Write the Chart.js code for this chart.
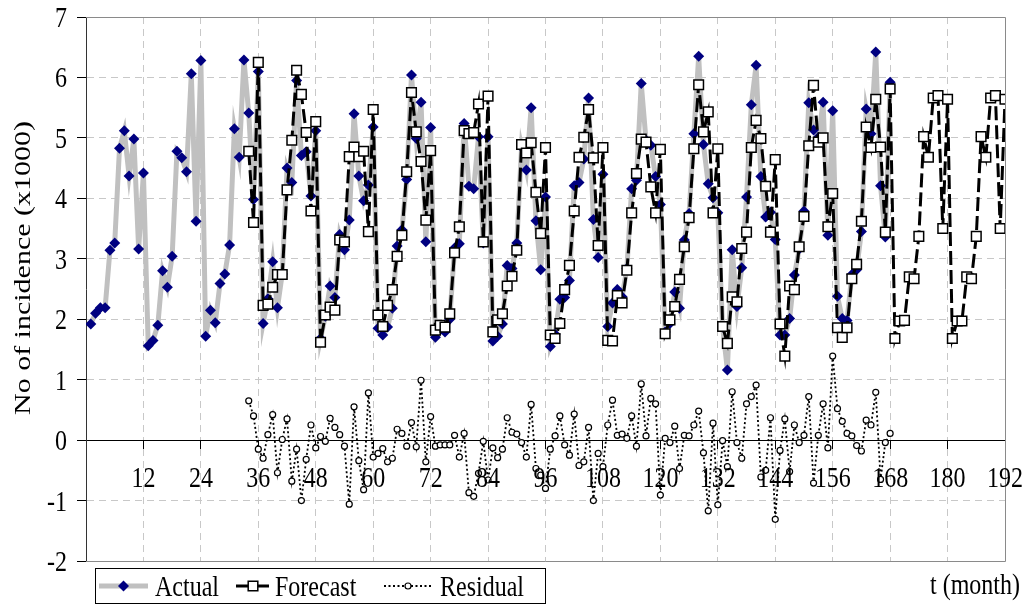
<!DOCTYPE html>
<html>
<head>
<meta charset="utf-8">
<title>Incidence forecast</title>
<script src="https://cdn.jsdelivr.net/npm/chart.js@4.4.0/dist/chart.umd.min.js"></script>
<style>
  html, body { margin: 0; padding: 0; background: #fff; }
  #chart { display: block; }
</style>
</head>
<body>
<canvas id="chart" width="1031" height="606"></canvas>
<script>
// Monthly incidence (x1000). Actual starts at month 1, forecast and residual at month 34.
const actualStart = 1;
const forecastStart = 34;
const residualStart = 34;

const actual = [
  1.92, 2.10, 2.19, 2.19, 3.14, 3.26, 4.83, 5.12, 4.37, 4.98, 3.16, 4.42,
  1.56, 1.65, 1.90, 2.80, 2.53, 3.04, 4.78, 4.67, 4.44, 6.06, 3.62, 6.28,
  1.72, 2.15, 1.94, 2.59, 2.75, 3.23, 5.15, 4.68, 6.29, 5.41, 3.98, 6.10,
  1.93, 2.34, 2.95, 2.19, 2.75, 4.50, 4.26, 5.95, 4.71, 4.77, 4.04, 5.12,
  1.68, 2.05, 2.55, 2.36, 3.40, 3.15, 3.64, 5.40, 4.37, 3.96, 4.22, 5.18,
  1.85, 1.74, 1.87, 2.18, 3.21, 3.48, 4.31, 6.04, 4.99, 5.59, 3.28, 5.17,
  1.70, 1.82, 1.79, 2.00, 3.18, 3.25, 5.24, 4.20, 4.16, 5.02, 3.26, 5.02,
  1.64, 1.72, 1.92, 2.89, 2.84, 3.26, 4.85, 4.47, 5.50, 3.63, 2.82, 4.02,
  1.55, 1.75, 2.33, 2.36, 2.64, 4.21, 4.26, 4.65, 5.66, 3.65, 3.02, 4.40,
  1.88, 2.27, 2.49, 2.37, 2.84, 4.16, 4.30, 5.90, 4.96, 4.88, 4.36, 3.90,
  1.79, 1.93, 2.45, 2.18, 3.31, 3.75, 5.07, 6.35, 4.89, 4.24, 4.01, 3.76,
  1.87, 1.16, 3.15, 2.21, 2.85, 4.02, 5.55, 6.20, 4.36, 3.69, 3.77, 3.32,
  1.74, 1.74, 2.01, 2.73, 3.16, 3.79, 5.58, 5.13, 5.01, 5.59, 3.39, 5.45,
  2.38, 2.01, 1.98, 2.74, 2.82, 3.45, 5.48, 5.07, 6.42, 4.21, 3.36, 5.92
];

const forecast = [
                                                            4.78, 3.60, 6.25,
  2.23, 2.25, 2.53, 2.74, 2.74, 4.14, 4.96, 6.12, 5.72, 5.09, 3.79, 5.27,
  1.62, 2.07, 2.20, 2.15, 3.31, 3.28, 4.69, 4.85, 4.69, 4.78, 3.45, 5.47,
  2.07, 1.88, 2.23, 2.49, 3.04, 3.39, 4.44, 5.75, 5.10, 4.61, 3.64, 4.79,
  1.82, 1.90, 1.87, 2.09, 3.10, 3.53, 5.12, 5.07, 5.09, 5.56, 3.28, 5.69,
  1.79, 1.99, 2.09, 2.55, 2.71, 3.14, 4.89, 4.75, 4.92, 4.10, 3.42, 4.84,
  1.74, 1.68, 1.93, 2.49, 2.89, 3.79, 4.68, 5.01, 5.47, 4.67, 3.22, 4.84,
  1.65, 1.64, 2.39, 2.27, 2.81, 3.76, 4.41, 4.98, 4.93, 4.19, 3.76, 4.81,
  1.76, 1.99, 2.21, 2.66, 3.20, 3.68, 4.82, 5.88, 5.10, 5.43, 3.76, 4.82,
  1.88, 1.60, 2.37, 2.29, 3.17, 3.44, 4.84, 5.29, 4.99, 4.20, 3.44, 4.64,
  1.92, 1.39, 2.55, 2.49, 3.20, 3.70, 4.87, 5.87, 4.93, 5.00, 3.53, 4.08,
  1.86, 1.70, 1.86, 2.67, 2.91, 3.62, 5.18, 4.84, 5.64, 4.85, 3.44, 5.81,
  1.68, 1.97, 1.98, 2.70, 2.67, 3.37, 5.02, 4.68, 5.66, 5.70, 3.50, 5.64,
  1.68, 1.97, 1.97, 2.70, 2.67, 3.37, 5.02, 4.68, 5.66, 5.70, 3.50, 5.64
];

const residual = [
                                                               0.65, 0.40, -0.15,
  -0.30, 0.09, 0.42, -0.54, 0.01, 0.35, -0.68, -0.15, -1.00, -0.32, 0.25, -0.13,
  0.06, -0.02, 0.36, 0.21, 0.09, -0.10, -1.06, 0.55, -0.34, -0.82, 0.78, -0.28,
  -0.22, -0.14, -0.36, -0.30, 0.18, 0.11, -0.10, 0.29, -0.11, 0.99, -0.36, 0.39,
  -0.10, -0.08, -0.08, -0.08, 0.08, -0.28, 0.11, -0.87, -0.93, -0.55, -0.02, -0.66,
  -0.13, -0.29, -0.15, 0.37, 0.13, 0.10, -0.04, -0.28, 0.59, -0.47, -0.58, -0.80,
  -0.15, 0.07, 0.40, -0.08, -0.25, 0.43, -0.42, -0.36, 0.21, -1.00, -0.22, -0.44,
  0.25, 0.66, 0.08, 0.10, 0.03, 0.40, -0.10, 0.93, 0.07, 0.69, 0.60, -0.91,
  0.03, -0.04, 0.23, -0.47, 0.08, 0.07, 0.25, 0.48, -0.21, -1.17, 0.28, -1.07,
  -0.01, -0.44, 0.80, -0.04, -0.30, 0.60, 0.72, 0.91, -0.61, -0.50, 0.37, -1.31,
  -0.17, 0.35, -0.52, 0.25, -0.04, 0.08, 0.72, -0.71, 0.08, 0.60, -0.13, 1.39,
  0.52, 0.31, 0.11, 0.07, -0.09, -0.18, 0.33, 0.25, 0.79, -0.65, -0.04, 0.11
];

const monthTicks = [12, 24, 36, 48, 60, 72, 84, 96, 108, 120, 132, 144, 156, 168, 180, 192];
const valueTicks = [-2, -1, 0, 1, 2, 3, 4, 5, 6, 7];
const seriesNames = ['Actual', 'Forecast', 'Residual'];
const yTitle = 'No of incidence (x1000)';
const xTitle = 't (month)';

// turn a run of monthly values into {x, y} points
const toPoints = (vals, start) => vals.map((v, i) => ({ x: start + i, y: v }));

// the text in this chart is a tall, narrow serif
const FONT = '"Liberation Serif", "Times New Roman", serif';
const TEXT_PX = 30;
const SQUEEZE = 0.8;

function narrowText(ctx, str, x, y, align, rotate) {
  ctx.save();
  ctx.translate(x, y);
  if (rotate) {
    ctx.rotate(-Math.PI / 2);
    ctx.scale(1, SQUEEZE);
  } else {
    ctx.scale(SQUEEZE, 1);
  }
  ctx.font = TEXT_PX + 'px ' + FONT;
  ctx.fillStyle = '#000';
  ctx.textAlign = align;
  ctx.textBaseline = rotate ? 'middle' : 'alphabetic';
  ctx.fillText(str, 0, 0);
  ctx.restore();
}

function marker(ctx, ds, x, y) {
  const r = ds.pointRadius;
  ctx.save();
  ctx.fillStyle = ds.pointBackgroundColor;
  ctx.strokeStyle = ds.pointBorderColor;
  ctx.lineWidth = ds.pointBorderWidth;
  ctx.beginPath();
  if (ds.pointStyle === 'rectRot') {
    ctx.moveTo(x, y - r); ctx.lineTo(x + r, y); ctx.lineTo(x, y + r); ctx.lineTo(x - r, y);
    ctx.closePath();
  } else if (ds.pointStyle === 'rect') {
    const s = r * Math.SQRT1_2;
    ctx.rect(x - s, y - s, 2 * s, 2 * s);
  } else {
    ctx.arc(x, y, r, 0, Math.PI * 2);
  }
  ctx.fill();
  if (ds.pointBorderWidth > 0) ctx.stroke();
  ctx.restore();
}

function legendSample(ctx, ds, x1, x2, y) {
  ctx.save();
  ctx.strokeStyle = ds.borderColor;
  ctx.lineWidth = ds.borderWidth;
  ctx.setLineDash(ds.borderDash || []);
  ctx.beginPath();
  ctx.moveTo(x1, y);
  ctx.lineTo(x2, y);
  ctx.stroke();
  ctx.restore();
  marker(ctx, ds, (x1 + x2) / 2, y);
}

const chartDecor = {
  id: 'chartDecor',
  beforeDatasetsDraw(chart) {
    // grey frame on the top, right and bottom of the plot
    const { ctx, chartArea: a } = chart;
    ctx.save();
    ctx.strokeStyle = '#8a8a8a';
    ctx.lineWidth = 1;
    ctx.beginPath();
    ctx.moveTo(a.left, Math.round(a.top) + 0.5);
    ctx.lineTo(Math.round(a.right) + 0.5, Math.round(a.top) + 0.5);
    ctx.lineTo(Math.round(a.right) + 0.5, Math.round(a.bottom) + 0.5);
    ctx.lineTo(a.left, Math.round(a.bottom) + 0.5);
    ctx.stroke();
    ctx.restore();
  },
  afterDraw(chart) {
    const { ctx, scales: { x, y } } = chart;
    valueTicks.forEach(v => narrowText(ctx, String(v), 67, y.getPixelForValue(v) + 10, 'right'));
    const zeroY = y.getPixelForValue(0);
    monthTicks.forEach(m => narrowText(ctx, String(m), x.getPixelForValue(m), zeroY + 47, 'center'));
    narrowText(ctx, yTitle, 24, 268, 'center', true);
    narrowText(ctx, xTitle, 1020, 594, 'right');

    // legend box
    const ds = chart.data.datasets;
    ctx.save();
    ctx.strokeStyle = '#000';
    ctx.lineWidth = 1;
    ctx.strokeRect(95.5, 568.5, 450, 35);
    ctx.restore();
    const ly = 586;
    legendSample(ctx, ds[0], 99, 148, ly);
    narrowText(ctx, seriesNames[0], 155, 596, 'left');
    legendSample(ctx, ds[1], 236, 270, ly);
    narrowText(ctx, seriesNames[1], 275, 596, 'left');
    legendSample(ctx, ds[2], 384, 432, ly);
    narrowText(ctx, seriesNames[2], 440, 596, 'left');
  }
};

const gridGrey = '#c8c8c8';

new Chart(document.getElementById('chart'), {
  type: 'line',
  data: {
    datasets: [
      {
        label: seriesNames[0],
        data: toPoints(actual, actualStart),
        borderColor: '#c0c0c0',
        borderWidth: 5,
        pointStyle: 'rectRot',
        pointRadius: 5.5,
        pointBackgroundColor: '#000080',
        pointBorderColor: '#000080',
        pointBorderWidth: 0,
        order: 3
      },
      {
        label: seriesNames[1],
        data: toPoints(forecast, forecastStart),
        borderColor: '#000',
        borderWidth: 3,
        borderDash: [14, 5],
        pointStyle: 'rect',
        pointRadius: 6.8,
        pointBackgroundColor: '#fff',
        pointBorderColor: '#000',
        pointBorderWidth: 1.5,
        order: 2
      },
      {
        label: seriesNames[2],
        data: toPoints(residual, residualStart),
        borderColor: '#000',
        borderWidth: 1.8,
        borderDash: [2, 2.5],
        pointStyle: 'circle',
        pointRadius: 3,
        pointBackgroundColor: '#fff',
        pointBorderColor: '#000',
        pointBorderWidth: 1.2,
        order: 1
      }
    ]
  },
  options: {
    responsive: false,
    animation: false,
    layout: { padding: { top: 17, right: 26, bottom: 45, left: 0 } },
    elements: { line: { tension: 0 } },
    plugins: { legend: { display: false }, tooltip: { enabled: false } },
    scales: {
      x: {
        type: 'linear',
        min: 0,
        max: 192,
        position: { y: 0 },
        afterBuildTicks: s => { s.ticks = [0].concat(monthTicks).map(v => ({ value: v })); },
        ticks: { display: false },
        grid: {
          color: c => (c.tick && (c.tick.value === 0 || c.tick.value === 192)) ? 'rgba(0,0,0,0)' : gridGrey,
          tickLength: 8,
          tickColor: c => (c.tick && c.tick.value === 0) ? 'rgba(0,0,0,0)' : '#000'
        },
        border: { color: '#000', width: 1, dash: [7, 5] }
      },
      y: {
        min: -2,
        max: 7,
        afterBuildTicks: s => { s.ticks = valueTicks.map(v => ({ value: v })); },
        afterFit: s => { s.width = 86; },
        ticks: { display: false },
        grid: {
          color: c => (c.tick && (c.tick.value === 0 || c.tick.value === 7 || c.tick.value === -2)) ? 'rgba(0,0,0,0)' : gridGrey,
          tickLength: 9,
          tickColor: '#000'
        },
        border: { color: '#333', width: 1, dash: [7, 5] }
      }
    }
  },
  plugins: [chartDecor]
});
</script>
</body>
</html>
